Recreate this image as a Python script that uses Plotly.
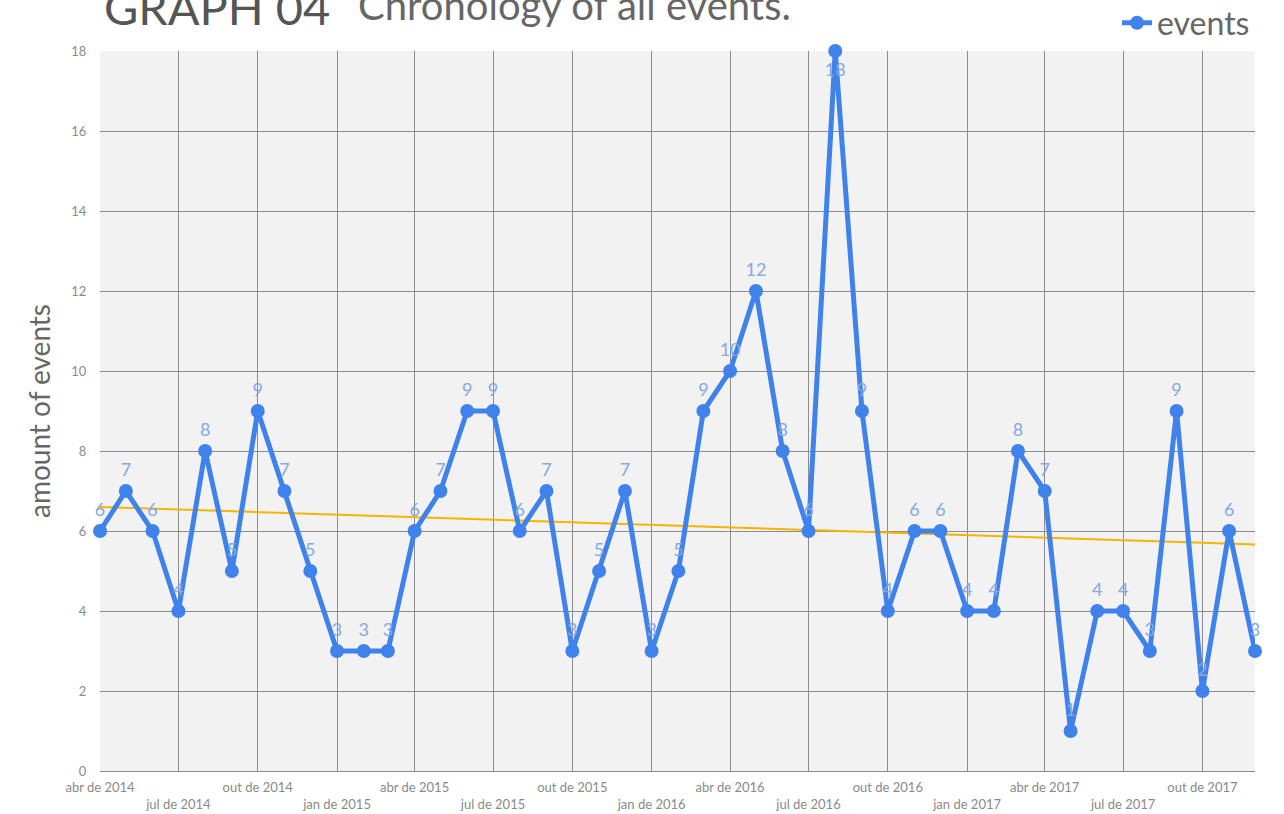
import numpy as np
import pandas as pd
import plotly.graph_objects as go

# monthly counts, abr 2014 .. dez 2017
months = pd.date_range('2014-04-01', '2017-12-01', freq='MS')
events = [6, 7, 6, 4, 8, 5, 9, 7, 5, 3, 3, 3,
          6, 7, 9, 9, 6, 7, 3, 5, 7, 3, 5, 9,
          10, 12, 8, 6, 18, 9, 4, 6, 6, 4, 4, 8,
          7, 1, 4, 4, 3, 9, 2, 6, 3]

tick_dates = pd.date_range('2014-04-01', '2017-10-01', freq='3MS')
tick_names = ['abr de 2014', 'jul de 2014', 'out de 2014', 'jan de 2015',
              'abr de 2015', 'jul de 2015', 'out de 2015', 'jan de 2016',
              'abr de 2016', 'jul de 2016', 'out de 2016', 'jan de 2017',
              'abr de 2017', 'jul de 2017', 'out de 2017']
# stagger every other label onto a second row
tick_text = [t if i % 2 == 0 else '<br>' + t for i, t in enumerate(tick_names)]

# linear trend line (least squares over month index)
idx = np.arange(len(events))
slope, intercept = np.polyfit(idx, events, 1)
trend = slope * idx + intercept

blue = '#3f82ec'
fnt = 'Lato, Open Sans, sans-serif'

fig = go.Figure()
fig.add_scatter(x=months, y=trend, mode='lines', line=dict(color='#f4b400', width=2),
                showlegend=False, hoverinfo='skip')
fig.add_scatter(x=months, y=events, name='events', mode='lines+markers',
                line=dict(color=blue, width=5), marker=dict(size=14, color=blue),
                cliponaxis=False)
# value labels, offset by an invisible marker
fig.add_scatter(x=months, y=events, mode='markers+text', text=[str(v) for v in events],
                marker=dict(size=16, opacity=0),
                textposition=['bottom center' if v == 18 else 'top center' for v in events],
                textfont=dict(color='#86a8e4', size=18, family=fnt),
                showlegend=False, cliponaxis=False, hoverinfo='skip')

fig.add_annotation(text='GRAPH 04', xref='paper', yref='paper', x=0.002, y=1.019,
                   xanchor='left', yanchor='bottom', showarrow=False,
                   font=dict(size=47, color='#555555', family=fnt))
fig.add_annotation(text='Chronology of all events.', xref='paper', yref='paper', x=0.222, y=1.028,
                   xanchor='left', yanchor='bottom', showarrow=False,
                   font=dict(size=40, color='#666666', family=fnt))

fig.update_xaxes(range=[months[0], months[-1]], tickvals=tick_dates, ticktext=tick_text,
                 tickangle=0, showgrid=True, gridcolor='#8c8c8c', gridwidth=1,
                 tickfont=dict(size=13, color='#8a8a8a', family=fnt),
                 ticks='outside', ticklen=4, tickcolor='rgba(0,0,0,0)',
                 showline=True, linecolor='#8c8c8c', linewidth=1, automargin=False)
fig.update_yaxes(range=[0, 18], dtick=2, showgrid=True, gridcolor='#8c8c8c', gridwidth=1,
                 zeroline=False, tickfont=dict(size=13, color='#8a8a8a', family=fnt),
                 ticks='outside', ticklen=10, tickcolor='rgba(0,0,0,0)', automargin=False,
                 title=dict(text='amount of events', font=dict(size=28, color='#666666', family=fnt),
                            standoff=12))

fig.update_layout(width=1284, height=814,
                  margin=dict(l=100, r=29, t=51, b=43, autoexpand=False),
                  plot_bgcolor='#f2f2f2', paper_bgcolor='white',
                  legend=dict(x=1, xanchor='right', y=1.039, yanchor='middle',
                              font=dict(size=32, color='#666666', family=fnt),
                              bgcolor='rgba(0,0,0,0)'),
                  hovermode=False)

# page body has a default 8px margin; drop it so the figure sits at the window corner
fig.write_html('out.html', config={'displayModeBar': False},
               post_script="document.body.style.margin='0';")
